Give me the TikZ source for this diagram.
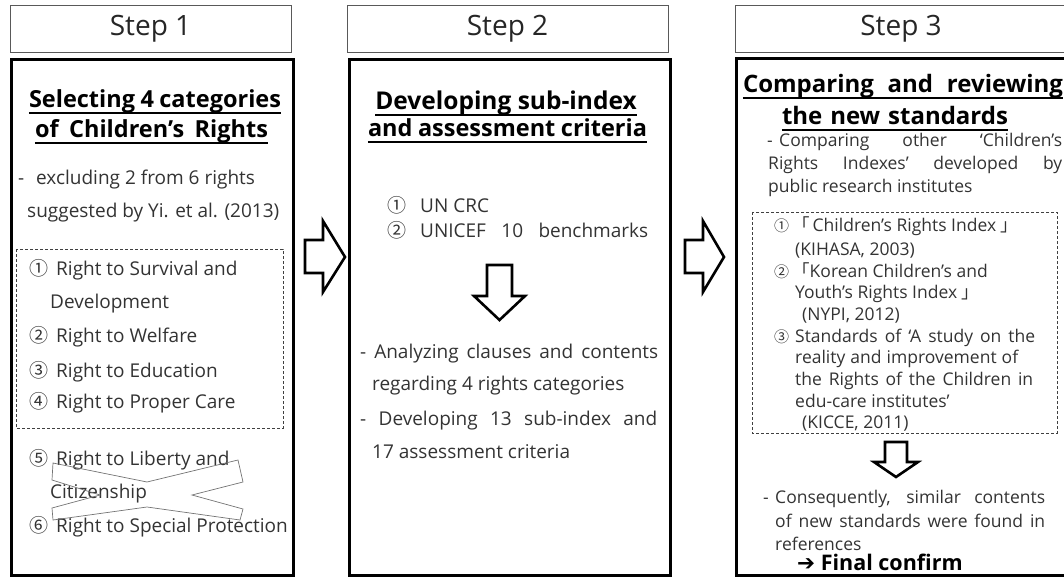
\documentclass[tikz,border=0pt]{standalone}
\usepackage{fontspec}
\setmainfont{Open Sans}
\newfontfamily\cjk{Noto Sans CJK KR}
\newfontfamily\djv{DejaVu Sans}
\newcommand{\cn}[1]{{\cjk #1}}
\newcommand{\jl}[2]{\makebox[#1pt][s]{#2}}
\begin{document}
\begin{tikzpicture}[x=1pt,y=-1pt,
  hdr/.style={draw=black!65, line width=0.9pt, inner sep=0pt, text=black!85, font=\fontsize{28}{32}\selectfont},
  mainbox/.style={draw=black, line width=3pt, inner sep=0pt},
  dbox/.style={draw=black!75, line width=0.8pt, dash pattern=on 3pt off 2pt},
  blockarrow/.style={draw=black, line width=2.6pt, fill=white, line join=miter, miter limit=10},
  crossx/.style={draw=black!55, line width=0.7pt},
  body/.style={anchor=base west, inner sep=0pt, text=black!80, font=\fontsize{19}{22}\selectfont},
  numa/.style={anchor=base west, inner sep=0pt, text=black!80, font=\cjk\fontsize{19}{22}\selectfont},
  small/.style={anchor=base west, inner sep=0pt, text=black!80, font=\fontsize{17.5}{20}\selectfont},
  numb/.style={anchor=base west, inner sep=0pt, text=black!80, font=\cjk\fontsize{15}{18}\selectfont},
  ttl/.style={anchor=base, inner sep=0pt, text=black, font=\fontsize{23.5}{27}\selectfont\bfseries},
  uline/.style={draw=black, line width=1.3pt},
]
\useasboundingbox (0,0) rectangle (1064,577);
\clip (0,0) rectangle (1064,577);

% headers
\node[hdr, minimum width=281, minimum height=47] (h1) at (150.5,28.5) {Step 1};
\node[hdr, minimum width=321, minimum height=47] (h2) at (507.5,28.5) {Step 2};
\node[hdr, minimum width=332, minimum height=47] (h3) at (901,28.5) {Step 3};

% main boxes
\node[mainbox, minimum width=282, minimum height=515] (b1) at (152.5,317.5) {};
\node[mainbox, minimum width=321, minimum height=515] (b2) at (509.5,317.5) {};
\node[mainbox, minimum width=336, minimum height=517] (b3) at (904,317) {};

% block arrows between steps
\draw[blockarrow] (305,240) -- (323,240) -- (323,221) -- (345,257) -- (323,292) -- (323,273) -- (305,273) -- cycle;
\draw[blockarrow] (685,240) -- (703,240) -- (703,221) -- (724,257) -- (703,292) -- (703,273) -- (685,273) -- cycle;

% ---------- Step 1 ----------
\node[ttl] (t1a) at (155,108) {\jl{252}{Selecting 4 categories}};
\node[ttl] (t1b) at (151.5,138) {\jl{233}{of Children’s Rights}};
\draw[uline] ([yshift=-5pt]t1a.base west) -- ([yshift=-5pt]t1a.base east);
\draw[uline] ([yshift=-5pt]t1b.base west) -- ([yshift=-5pt]t1b.base east);

\node[body] (e0) at (18,185) {-};
\node[body] (e1) at (36,185) {excluding 2 from 6 rights};
\node[body] (e2) at (27,218) {suggested by Yi. et al. (2013)};

\draw[dbox] (16,249) rectangle (283,428);
\node[numa] (n1) at (29,275) {①};
\node[body] (r1) at (56,275) {Right to Survival and};
\node[body] (r1b) at (50,308) {Development};
\node[numa] (n2) at (29,342) {②};
\node[body] (r2) at (56,342) {Right to Welfare};
\node[numa] (n3) at (29,377) {③};
\node[body] (r3) at (56,377) {Right to Education};
\node[numa] (n4) at (29,408) {④};
\node[body] (r4) at (56,408) {Right to Proper Care};
\node[numa] (n5) at (29,465) {⑤};
\node[body] (r5) at (56,465) {Right to Liberty and};
\node[body] (r5b) at (50,498) {Citizenship};
\node[numa] (n6) at (29,532) {⑥};
\node[body] (r6) at (56,532) {Right to Special Protection};

\draw[crossx] (53,463) -- (147,482) -- (238,460) -- (243,482) -- (192,495) -- (243,509) -- (240,520) -- (147,507) -- (53,520) -- (52,508) -- (100,495) -- (52,480) -- cycle;

% ---------- Step 2 ----------
\node[ttl, font=\fontsize{24.5}{27}\selectfont\bfseries] (t2a) at (506,110) {Developing sub-index};
\node[ttl] (t2b) at (507.5,137) {\jl{279}{and assessment criteria}};
\draw[uline] ([yshift=-5pt]t2a.base west) -- ([yshift=-5pt]t2a.base east);
\draw[uline] ([yshift=-5pt]t2b.base west) -- ([yshift=-5pt]t2b.base east);

\node[numa] (u1n) at (387,212) {①};
\node[body] (u1) at (420,212) {UN CRC};
\node[numa] (u2n) at (387,237) {②};
\node[body] (u2) at (420,237) {\jl{228}{UNICEF 10 benchmarks}};

\draw[blockarrow] (487,265) -- (512,265) -- (512,296) -- (525,296) -- (499.5,320) -- (474,296) -- (487,296) -- cycle;

\node[body] (a1) at (360,358) {\jl{298}{- Analyzing clauses and contents}};
\node[body] (a2) at (372,390) {regarding 4 rights categories};
\node[body] (a3) at (360,425) {\jl{297}{- Developing 13 sub-index and}};
\node[body] (a4) at (372,458) {17 assessment criteria};

% ---------- Step 3 ----------
\node[ttl, font=\fontsize{24}{27}\selectfont\bfseries] (t3a) at (903,93) {\jl{320}{Comparing and reviewing}};
\node[ttl, font=\fontsize{24}{27}\selectfont\bfseries] (t3b) at (895,125) {\jl{226}{the new standards}};
\draw[uline] ([yshift=-5pt]t3a.base west) -- ([yshift=-5pt]t3a.base east);
\draw[uline] ([yshift=-5pt]t3b.base west) -- ([yshift=-5pt]t3b.base east);

\node[small] (c0) at (767,147) {-};
\node[small] (c1) at (779,147) {\jl{283}{Comparing other ‘Children’s}};
\node[small] (c2) at (768,170) {\jl{294}{Rights Indexes’ developed by}};
\node[small] (c3) at (768,193) {public research institutes};

\draw[dbox] (752,212) rectangle (1057,433);
\node[numb] (k1n) at (774,232) {①};
\node[small] (k1) at (792,232) {\cn{「}\,Children’s Rights Index \cn{」}};
\node[small] (k1b) at (795,255) {(KIHASA, 2003)};
\node[numb] (k2n) at (774,277) {②};
\node[small] (k2) at (792,277) {\cn{「}Korean Children’s and};
\node[small] (k2b) at (795,298) {Youth’s Rights Index \cn{」}};
\node[small] (k2c) at (802,320) {(NYPI, 2012)};
\node[numb] (k3n) at (774,342) {③};
\node[small] (k3) at (795,342) {\jl{240}{Standards of ‘A study on the}};
\node[small] (k3b) at (795,363) {\jl{223}{reality and improvement of}};
\node[small] (k3c) at (795,385) {\jl{238}{the Rights of the Children in}};
\node[small] (k3d) at (795,407) {edu-care institutes’};
\node[small] (k3e) at (802,428) {(KICCE, 2011)};

\draw[blockarrow] (885,442) -- (907,442) -- (907,462) -- (918,462) -- (896,477) -- (874,462) -- (885,462) -- cycle;

\node[small] (f0) at (763,503) {-};
\node[small] (f1) at (775,503) {\jl{270}{Consequently, similar contents}};
\node[small] (f2) at (775,527) {\jl{270}{of new standards were found in}};
\node[small] (f3) at (775,550) {references};
\node[small, text=black, font=\fontsize{21.5}{24}\selectfont\bfseries] (f4) at (797,570) {{\djv\mdseries ➔} Final confirm};
\end{tikzpicture}
\end{document}
